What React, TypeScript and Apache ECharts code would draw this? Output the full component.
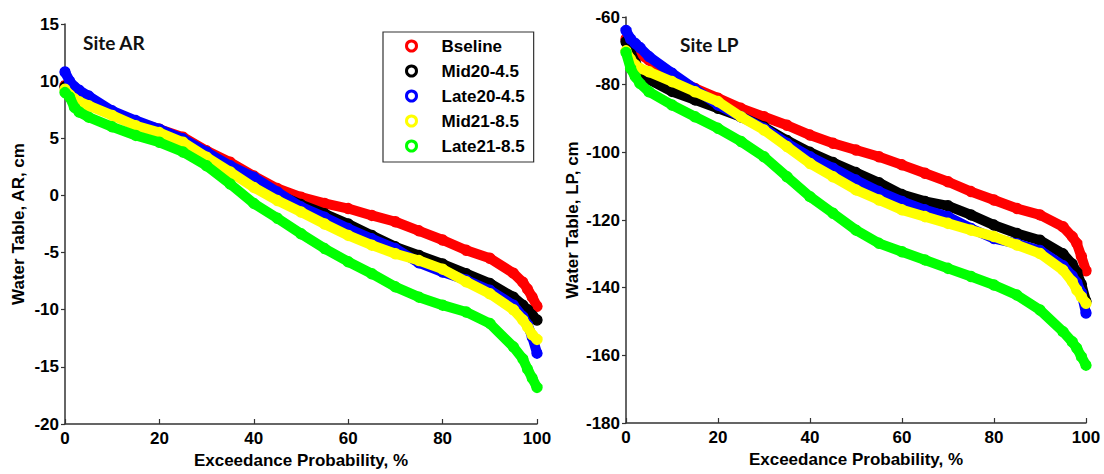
import React, { useEffect, useRef } from "react";
import * as echarts from "echarts";

// Exceedance probability (%) at which values were read
const PROB = [0, 1, 2, 3, 5, 10, 15, 20, 25, 30, 35, 40, 45, 50, 55, 60, 65, 70, 75, 80, 85, 90, 95, 97, 98, 99, 100];

const SERIES_NAMES = ["Bseline", "Mid20-4.5", "Late20-4.5", "Mid21-8.5", "Late21-8.5"];
const COLORS = ["#ff0000", "#000000", "#0000ff", "#ffff00", "#00ff00"];

// Site AR water table (cm)
const AR_BSELINE = [9.6, 9.2, 8.9, 8.6, 8.2, 7.2, 6.4, 5.8, 5.1, 3.9, 2.9, 1.7, 0.6, -0.15, -0.7, -1.15, -1.75, -2.3, -3.1, -3.9, -4.8, -5.5, -6.8, -7.6, -8.2, -8.9, -9.7];
const AR_MID20 = [9.5, 9.2, 8.9, 8.6, 8.2, 7.1, 6.3, 5.6, 4.8, 3.7, 2.5, 1.2, 0.1, -0.8, -1.6, -2.5, -3.5, -4.5, -5.25, -6.0, -6.85, -7.7, -8.9, -9.6, -10.0, -10.5, -10.9];
const AR_LATE20 = [10.8, 10.0, 9.5, 9.2, 8.7, 7.4, 6.55, 5.8, 4.95, 3.8, 2.6, 1.6, 0.3, -1.0, -1.9, -2.9, -3.8, -4.65, -5.9, -6.7, -7.4, -8.3, -9.6, -10.6, -11.3, -12.4, -13.8];
const AR_MID21 = [9.3, 8.8, 8.45, 8.2, 7.85, 7.0, 6.1, 5.5, 4.65, 3.35, 2.05, 0.7, -0.45, -1.45, -2.5, -3.5, -4.35, -5.1, -5.7, -6.45, -7.55, -8.6, -10.0, -10.9, -11.5, -12.2, -12.6];
const AR_LATE21 = [9.0, 8.6, 7.7, 7.3, 6.85, 6.0, 5.25, 4.65, 3.8, 2.6, 1.0, -0.7, -2.0, -3.35, -4.65, -5.8, -6.85, -8.0, -8.9, -9.6, -10.2, -11.2, -13.25, -14.3, -15.2, -16.0, -16.8];

// Site LP water table (cm)
const LP_BSELINE = [-66.5, -68.5, -70, -71, -72.7, -77.6, -81.1, -84.0, -87.0, -89.5, -92.0, -94.9, -97.3, -99.3, -101.3, -103.7, -106.2, -108.7, -111.6, -114.1, -116.6, -118.5, -122.0, -124.9, -126.9, -130.8, -135.0];
const LP_MID20 = [-67.3, -70.5, -73.5, -75.5, -78.5, -82, -84.5, -87, -89.5, -92.5, -96.5, -100.0, -103.0, -106.0, -109.0, -112.5, -114.5, -115.8, -118.5, -121.5, -124.0, -126.0, -130.0, -133.0, -135.5, -139, -144];
const LP_LATE20 = [-64, -66.5, -67.8, -69, -71.7, -76.6, -81.3, -86.0, -89.5, -92.9, -97.3, -101.3, -104.7, -108.2, -111.6, -114.5, -117.0, -119.0, -122.5, -125.5, -127.0, -129.0, -133.5, -136.5, -138.5, -141.5, -147.5];
const LP_MID21 = [-70, -72.5, -74.2, -75.2, -76.2, -79.1, -82.1, -85.0, -89.5, -93.4, -98.3, -103.3, -107.2, -111.1, -114.1, -117.0, -119.0, -121.0, -123.0, -124.9, -127.4, -129.9, -134.8, -138.2, -140.7, -142.7, -144.6];
const LP_LATE21 = [-70.5, -75.2, -77.6, -79.6, -82.1, -86.0, -89.5, -92.9, -96.8, -101.3, -107.2, -113.1, -118.0, -123.0, -126.9, -129.4, -131.8, -134.3, -136.7, -139.2, -142.2, -146.6, -153.0, -156.0, -157.9, -160.4, -162.9];

const AR_DATA = [AR_BSELINE, AR_MID20, AR_LATE20, AR_MID21, AR_LATE21];
const LP_DATA = [LP_BSELINE, LP_MID20, LP_LATE20, LP_MID21, LP_LATE21];

const FONT = "'Liberation Sans', Arial, sans-serif";
const AXIS_COLOR = "#333333";

function xAxisCfg(gridIndex: number) {
  return {
    type: "value",
    gridIndex,
    min: 0,
    max: 100,
    interval: 20,
    name: "Exceedance Probability, %",
    nameLocation: "middle",
    nameGap: 27,
    nameTextStyle: { fontSize: 17, fontWeight: "bold", color: "#000", fontFamily: FONT },
    axisLine: { show: true, onZero: false, lineStyle: { color: AXIS_COLOR, width: 1.5 } },
    axisTick: { show: true, inside: true, length: 5, lineStyle: { color: AXIS_COLOR, width: 1.2 } },
    axisLabel: { fontSize: 17, fontWeight: "bold", color: "#000", fontFamily: FONT, margin: 6 },
    splitLine: { show: false },
  };
}

function yAxisCfg(gridIndex: number, name: string, min: number, max: number, interval: number, nameGap: number) {
  return {
    type: "value",
    gridIndex,
    min,
    max,
    interval,
    name,
    nameLocation: "middle",
    nameRotate: 90,
    nameGap,
    nameTextStyle: { fontSize: 17, fontWeight: "bold", color: "#000", fontFamily: FONT },
    axisLine: { show: true, onZero: false, lineStyle: { color: AXIS_COLOR, width: 1.5 } },
    axisTick: { show: true, inside: false, length: 4, lineStyle: { color: AXIS_COLOR, width: 1.2 } },
    axisLabel: { fontSize: 17, fontWeight: "bold", color: "#000", fontFamily: FONT, margin: 6 },
    splitLine: { show: false },
  };
}

function makeSeries(values: number[], idx: number, axisIndex: number) {
  return {
    type: "line",
    name: SERIES_NAMES[idx],
    xAxisIndex: axisIndex,
    yAxisIndex: axisIndex,
    data: PROB.map((p, i) => [p, values[i]]),
    symbol: "circle",
    symbolSize: 10,
    showAllSymbol: true,
    itemStyle: { color: "rgba(255,255,255,0)", borderColor: COLORS[idx], borderWidth: 1.4 },
    lineStyle: { color: COLORS[idx], width: 10, cap: "round", join: "round" },
    emphasis: { disabled: true },
    z: 2 + idx,
  };
}

export default function App() {
  const ref = useRef<HTMLDivElement>(null);

  useEffect(() => {
    const chart = echarts.init(ref.current!, null, { renderer: "svg" });
    const series: any[] = [];
    AR_DATA.forEach((v, i) => series.push(makeSeries(v, i, 0)));
    LP_DATA.forEach((v, i) => series.push(makeSeries(v, i, 1)));

    chart.setOption({
      animation: false,
      backgroundColor: "#ffffff",
      grid: [
        { left: 65, top: 24, width: 472, height: 400 },
        { left: 626, top: 17, width: 460, height: 406 },
      ],
      xAxis: [xAxisCfg(0), xAxisCfg(1)],
      yAxis: [
        yAxisCfg(0, "Water Table, AR, cm", -20, 15, 5, 38),
        yAxisCfg(1, "Water Table, LP, cm", -180, -60, 20, 45),
      ],
      legend: {
        data: SERIES_NAMES.map((n, i) => ({
          name: n,
          icon: "circle",
          itemStyle: { color: "#ffffff", borderColor: COLORS[i], borderWidth: 3 },
        })),
        orient: "vertical",
        left: 383,
        top: 32,
        padding: [4, 9, 6, 22],
        itemWidth: 10,
        itemHeight: 10,
        itemGap: 5,
        borderColor: "#333333",
        borderWidth: 1.2,
        backgroundColor: "#ffffff",
        selectedMode: false,
        textStyle: { fontSize: 17, fontWeight: "bold", color: "#000", fontFamily: FONT, lineHeight: 20, padding: [0, 0, 0, 20] },
      },
      graphic: [
        { type: "text", left: 83, top: 33, style: { text: "Site AR", font: "bold 19px Lato, 'Open Sans', sans-serif", fill: "#111" } },
        { type: "text", left: 680, top: 35, style: { text: "Site LP", font: "bold 19px Lato, 'Open Sans', sans-serif", fill: "#111" } },
      ],
      series,
    });
    return () => chart.dispose();
  }, []);

  return (
    <div
      ref={ref}
      style={{ position: "absolute", left: 0, top: 0, width: 1104, height: 474, background: "#fff" }}
    />
  );
}
